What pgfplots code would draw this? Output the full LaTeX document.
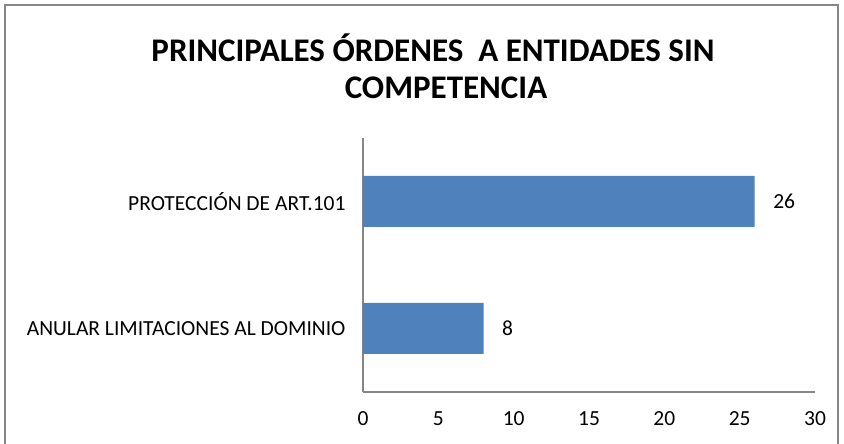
\documentclass[border=0pt]{standalone}
\usepackage{pgfplots}
\pgfplotsset{compat=1.18}
\usepackage{fontspec}
\setmainfont{Carlito}
\definecolor{barblue}{HTML}{4F81BD}
\definecolor{axgray}{HTML}{868686}
\begin{document}
\begin{tikzpicture}
\useasboundingbox (0pt,0pt) rectangle (844pt,444pt);
\draw[axgray,line width=1.5pt] (5pt,0pt) -- (5pt,439pt) -- (838pt,439pt) -- (838pt,0pt);
\node[font=\fontsize{33}{40}\selectfont\bfseries] at (433pt,396pt) {PRINCIPALES ÓRDENES\ \ A ENTIDADES SIN};
\node[font=\fontsize{33}{40}\selectfont\bfseries] at (446pt,356pt) {COMPETENCIA};
\begin{axis}[
  at={(363pt,52pt)}, anchor=south west,
  scale only axis, width=452pt, height=254pt,
  xbar, bar width=51pt,
  xmin=0, xmax=30, ymin=-0.5, ymax=1.5,
  xtick={0,5,...,30},
  ytick={0,1},
  yticklabels={ANULAR LIMITACIONES AL DOMINIO, PROTECCIÓN DE ART.101},
  axis x line*=bottom, axis y line*=left,
  axis line style={axgray, line width=1.2pt},
  x axis line style={-}, y axis line style={-},
  major tick length=0pt,
  tick style={draw=none},
  /pgf/number format/assume math mode=true,
  ticklabel style={font=\fontsize{21.5}{26}\selectfont},
  xticklabel style={yshift=-16pt},
  yticklabel style={xshift=-14pt},
  nodes near coords,
  every node near coord/.append style={font=\fontsize{21.5}{26}\selectfont, anchor=west, xshift=15pt},
]
\addplot[fill=barblue, draw=none] coordinates {(8,0) (26,1)};
\end{axis}
\end{tikzpicture}
\end{document}
